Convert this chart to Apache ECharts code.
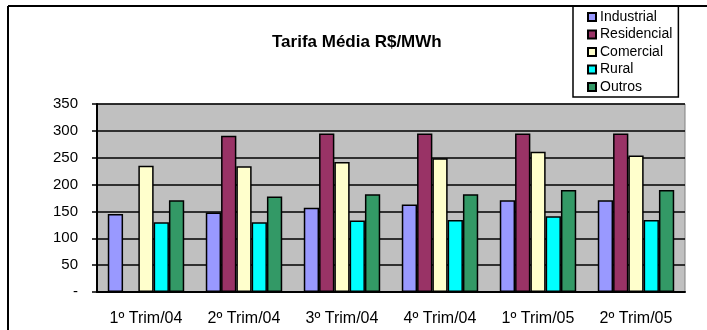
<!DOCTYPE html>
<html>
<head>
<meta charset="utf-8">
<script src="https://cdn.jsdelivr.net/npm/echarts@6/dist/echarts.min.js"></script>
<style>
  html, body { margin: 0; padding: 0; background: #fff; }
  #chart { width: 707px; height: 330px; }
</style>
</head>
<body>
<div id="chart"></div>
<script>
// trimestres
const quarters = ["1º Trim/04", "2º Trim/04", "3º Trim/04", "4º Trim/04", "1º Trim/05", "2º Trim/05"];
// tarifa média por classe (R$/MWh)
const industrial = [145, 148, 157, 163, 171, 171];
const residencial = [null, 291, 295, 295, 295, 295];
const comercial = [235, 234, 242, 249, 261, 254];
const rural = [130, 130, 133, 134, 141, 134];
const outros = [171, 178, 182, 182, 190, 190];
const yTicks = [0, 50, 100, 150, 200, 250, 300, 350];

const fontFamily = "'Liberation Sans', Arial, sans-serif";

function barSerie(name, data, color) {
  return {
    name: name,
    type: "bar",
    data: data,
    barGap: "0%",
    barCategoryGap: "22%",
    itemStyle: {
      color: color,
      borderColor: "#000",
      borderWidth: 1.5,
    },
  };
}

const myChart = echarts.init(document.getElementById("chart"));
myChart.setOption({
  animation: false,
  textStyle: { fontFamily: fontFamily },
  title: {
    text: "Tarifa Média R$/MWh",
    left: 272,
    top: 34,
    padding: 0,
    textStyle: { fontSize: 17, fontWeight: "bold", color: "#000", fontFamily: fontFamily },
  },
  legend: {
    orient: "vertical",
    left: 573,
    top: 6,
    padding: [4, 6, 3, 14],
    borderColor: "#000",
    borderWidth: 1.5,
    itemWidth: 8,
    itemHeight: 8,
    itemGap: 3.5,
    icon: "rect",
    textStyle: { fontSize: 14, lineHeight: 14, color: "#000", fontFamily: fontFamily, padding: [0, 0, 0, -1] },
  },
  grid: {
    left: 97,
    top: 104,
    width: 588,
    height: 188,
    show: true,
    backgroundColor: "#c0c0c0",
    borderColor: "#808080",
    borderWidth: 1,
  },
  xAxis: {
    type: "category",
    data: quarters,
    axisLine: { lineStyle: { color: "#000", width: 2 } },
    axisTick: { length: 6, lineStyle: { color: "#000", width: 1.5 } },
    axisLabel: { fontSize: 16, color: "#000", margin: 19, interval: 0 },
  },
  yAxis: {
    type: "value",
    min: yTicks[0],
    max: yTicks[yTicks.length - 1],
    interval: 50,
    axisLine: { show: true, lineStyle: { color: "#000", width: 2 } },
    axisTick: { show: true, length: 5, lineStyle: { color: "#000", width: 1.5 } },
    axisLabel: {
      fontSize: 15,
      color: "#000",
      margin: 19,
      formatter: (v) => (v === 0 ? "-" : String(v)),
    },
    splitLine: { lineStyle: { color: "#000", width: 1.5 } },
  },
  graphic: [
    { type: "line", shape: { x1: 8, y1: 6, x2: 707, y2: 6 }, style: { stroke: "#000", lineWidth: 2 } },
    { type: "line", shape: { x1: 8, y1: 6, x2: 8, y2: 330 }, style: { stroke: "#000", lineWidth: 2 } },
  ],
  series: [
    barSerie("Industrial", industrial, "#9999ff"),
    barSerie("Residencial", residencial, "#993366"),
    barSerie("Comercial", comercial, "#ffffcc"),
    barSerie("Rural", rural, "#00ffff"),
    barSerie("Outros", outros, "#339966"),
  ],
});
</script>
</body>
</html>
